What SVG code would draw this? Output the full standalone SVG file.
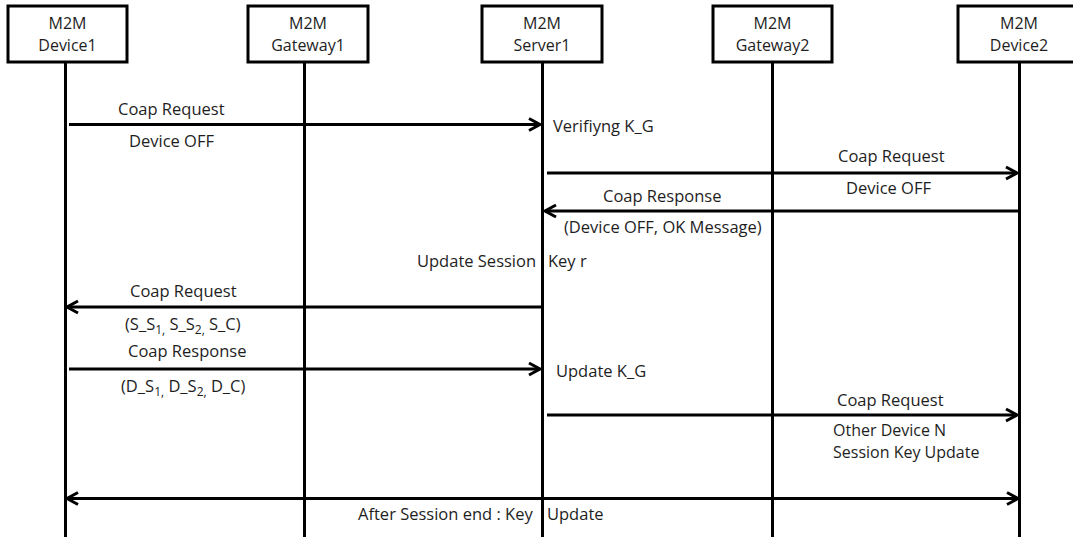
<svg xmlns="http://www.w3.org/2000/svg" width="1073" height="540" viewBox="0 0 1073 540">
  <style>
    .box { fill: #ffffff; stroke: #000000; stroke-width: 3; }
    .life { stroke: #000000; stroke-width: 3; fill: none; }
    .msg { stroke: #000000; stroke-width: 3; fill: none; }
    .arrow { marker-end: url(#head); }
    .both { marker-start: url(#head); marker-end: url(#head); }
    text { font-family: "Open Sans", "Noto Sans", "DejaVu Sans", sans-serif; font-size: 16.5px; fill: #1e1e1e; }
    .title { text-anchor: middle; font-size: 16px; }
    .note { font-size: 16px; }
    .sub { font-size: 12px; }
  </style>
  <defs>
    <marker id="head" markerUnits="userSpaceOnUse" markerWidth="16" markerHeight="18" refX="12" refY="7" orient="auto-start-reverse" overflow="visible">
      <path d="M1,1 L12,7 L1,13" fill="none" stroke="#000000" stroke-width="3" stroke-linejoin="miter"/>
    </marker>
  </defs>
  <rect width="1073" height="540" fill="#ffffff"/>

  <!-- participants -->
  <g id="device1">
    <rect class="box" x="8" y="6" width="119" height="56"/>
    <line class="life" x1="65.5" y1="62" x2="65.5" y2="537"/>
    <text class="title" x="67.5" y="29">M2M</text>
    <text class="title" x="67.5" y="51">Device1</text>
  </g>
  <g id="gateway1">
    <rect class="box" x="248" y="6" width="120" height="56"/>
    <line class="life" x1="304.5" y1="62" x2="304.5" y2="537"/>
    <text class="title" x="308" y="29">M2M</text>
    <text class="title" x="308" y="51">Gateway1</text>
  </g>
  <g id="server1">
    <rect class="box" x="482" y="6" width="120" height="56"/>
    <line class="life" x1="542.5" y1="62" x2="542.5" y2="537"/>
    <text class="title" x="542" y="29">M2M</text>
    <text class="title" x="542" y="51">Server1</text>
  </g>
  <g id="gateway2">
    <rect class="box" x="713" y="6" width="119" height="56"/>
    <line class="life" x1="772.5" y1="62" x2="772.5" y2="537"/>
    <text class="title" x="772.5" y="29">M2M</text>
    <text class="title" x="772.5" y="51">Gateway2</text>
  </g>
  <g id="device2">
    <rect class="box" x="958" y="6" width="122" height="56"/>
    <line class="life" x1="1019.5" y1="62" x2="1019.5" y2="537"/>
    <text class="title" x="1019" y="29">M2M</text>
    <text class="title" x="1019" y="51">Device2</text>
  </g>

  <!-- messages -->
  <g id="connectors">
    <line class="msg arrow" x1="69" y1="124.5" x2="540" y2="124.5"/>
    <line class="msg arrow" x1="547" y1="173" x2="1017" y2="173"/>
    <line class="msg arrow" x1="1019" y1="211" x2="545" y2="211"/>
    <line class="msg arrow" x1="541" y1="307" x2="67" y2="307"/>
    <line class="msg arrow" x1="69" y1="369" x2="540" y2="369"/>
    <line class="msg arrow" x1="547" y1="415" x2="1017" y2="415"/>
    <line class="msg both" x1="67" y1="498.5" x2="1018" y2="498.5"/>
  </g>

  <!-- message labels -->
  <g id="labels">
    <text x="118" y="115">Coap Request</text>
    <text x="129" y="147">Device OFF</text>
    <text x="553" y="131.5">Verifiyng K_G</text>

    <text x="838" y="162">Coap Request</text>
    <text x="846" y="194">Device OFF</text>

    <text x="603" y="202">Coap Response</text>
    <text x="564" y="233">(Device OFF, OK Message)</text>

    <text x="417" y="267">Update Session</text>
    <text x="548" y="267">Key r</text>

    <text x="130" y="297">Coap Request</text>
    <text x="125" y="330">(S_S<tspan class="sub" dy="4">1,</tspan><tspan dy="-4"> S_S</tspan><tspan class="sub" dy="4">2,</tspan><tspan dy="-4"> S_C)</tspan></text>

    <text x="128" y="357">Coap Response</text>
    <text x="121" y="391.5">(D_S<tspan class="sub" dy="4">1,</tspan><tspan dy="-4"> D_S</tspan><tspan class="sub" dy="4">2,</tspan><tspan dy="-4"> D_C)</tspan></text>
    <text x="556" y="377">Update K_G</text>

    <text x="837" y="405.5">Coap Request</text>
    <text class="note" x="833" y="435.5">Other Device N</text>
    <text class="note" x="833" y="457.5">Session Key Update</text>

    <text x="358" y="520">After Session end : Key</text>
    <text x="547" y="520">Update</text>
  </g>
</svg>
